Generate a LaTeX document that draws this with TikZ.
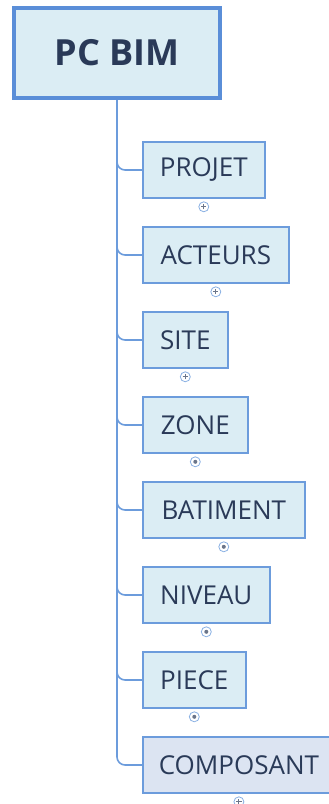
\documentclass[tikz,border=0pt]{standalone}
\usepackage{fontspec}
\setmainfont{Open Sans}
\definecolor{boxfill}{HTML}{DBEDF4}
\definecolor{selfill}{HTML}{DCE4F2}
\definecolor{boxline}{HTML}{6C9CDC}
\definecolor{rootline}{HTML}{5A8ED8}
\definecolor{textcol}{HTML}{2A3A58}
\begin{document}
\begin{tikzpicture}[x=1pt, y=-1pt,
		item/.style={draw=boxline, fill=boxfill, line width=1.6pt, anchor=west, minimum height=56pt, inner xsep=16pt, text=textcol, font=\fontsize{26}{26}\selectfont},
		branch/.style={draw=boxline, line width=1.6pt, rounded corners=8pt},
		knob/.style={circle, draw=boxline!80, fill=white, line width=0.8pt, inner sep=0pt, minimum size=10pt}]
		\useasboundingbox (0,0) rectangle (329,804);

		\node[draw=rootline, fill=boxfill, line width=4pt, minimum width=206pt, minimum height=90pt, text=textcol, font=\fontsize{36}{36}\selectfont\bfseries] (root) at (117,53) {PC BIM};

		\node[item, minimum width=122pt] (projet) at (142,170) {PROJET};
		\node[item, minimum width=146pt] (acteurs) at (142,255) {ACTEURS};
		\node[item, minimum width=85pt] (site) at (142,340) {SITE};
		\node[item, minimum width=105pt] (zone) at (142,425) {ZONE};
		\node[item, minimum width=162pt] (batiment) at (142,510) {BATIMENT};
		\node[item, minimum width=127pt] (niveau) at (142,595) {NIVEAU};
		\node[item, minimum width=103pt] (piece) at (142,680) {PIECE};
		\node[item, minimum width=186pt, fill=selfill] (composant) at (142,765) {COMPOSANT};

		\foreach \n in {composant, piece, niveau, batiment, zone, site, acteurs, projet}
			\draw[branch] (root.south) |- (\n.west);

		% expand buttons under the topics
		\foreach \n/\k in {projet/1, acteurs/1, site/1, zone/0, batiment/0, niveau/0, piece/0, composant/1} {
			\node[knob] (k-\n) at ([yshift=-8pt]\n.south) {};
			\ifnum\k=1
				\draw[textcol!70, line width=0.9pt] ([xshift=-2.6pt]k-\n.center) -- ([xshift=2.6pt]k-\n.center) ([yshift=-2.6pt]k-\n.center) -- ([yshift=2.6pt]k-\n.center);
			\else
				\fill[textcol!70] (k-\n.center) circle (2pt);
			\fi
		}
	\end{tikzpicture}
\end{document}
